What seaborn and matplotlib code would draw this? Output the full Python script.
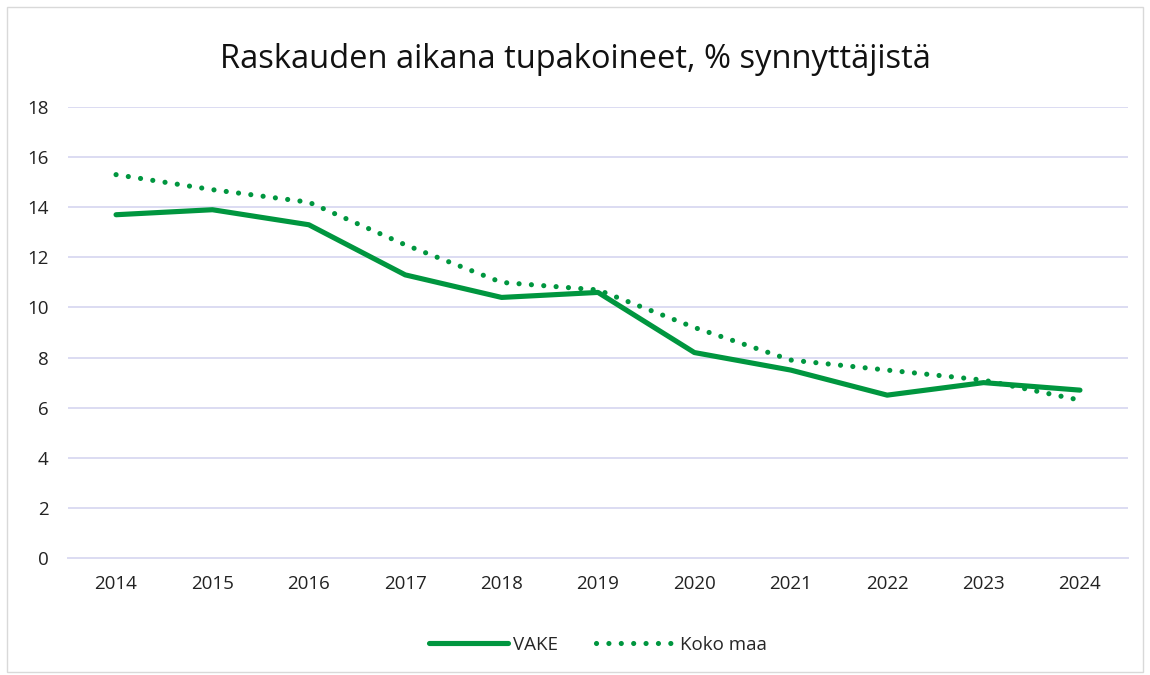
import numpy as np
import pandas as pd
import matplotlib
matplotlib.use('Agg')
import matplotlib.pyplot as plt
import seaborn as sns
from matplotlib.patches import Rectangle

# Data
years = [2014, 2015, 2016, 2017, 2018, 2019, 2020, 2021, 2022, 2023, 2024]
vake = [13.7, 13.9, 13.3, 11.3, 10.4, 10.6, 8.2, 7.5, 6.5, 7.0, 6.7]
koko_maa = [15.3, 14.7, 14.2, 12.5, 11.0, 10.7, 9.2, 7.9, 7.5, 7.1, 6.3]
series_names = ['VAKE', 'Koko maa']
title = 'Raskauden aikana tupakoineet, % synnyttäjistä'

green = '#00963F'
grid_col = '#DCDCF2'

sns.set_theme(style='white')
plt.rcParams['font.family'] = ['Open Sans', 'DejaVu Sans']

df = pd.DataFrame({
    'year': years * 2,
    'value': vake + koko_maa,
    'series': [series_names[0]] * len(years) + [series_names[1]] * len(years),
})

fig = plt.figure(figsize=(11.5, 6.75), dpi=100)
ax = fig.add_axes([0.059, 0.1733, 0.922, 0.6682])

for name, ls in zip(series_names, ['-', (0, (0.01, 2.4))]):
    sub = df[df['series'] == name]
    sns.lineplot(data=sub, x='year', y='value', ax=ax, color=green,
                 linewidth=3.7, linestyle=ls, label=name,
                 solid_capstyle='round', dash_capstyle='round')

ax.set_xlim(2013.5, 2024.5)
ax.set_ylim(0, 18)
ax.set_yticks(np.arange(0, 19, 2))
ax.set_xticks(years)
ax.set_xticklabels([str(y) for y in years])
ax.yaxis.grid(True, color=grid_col, linewidth=1.4)
ax.set_axisbelow(True)
for s in ax.spines.values():
    s.set_visible(False)
ax.spines['bottom'].set_visible(True)
ax.spines['bottom'].set_color(grid_col)
ax.spines['bottom'].set_linewidth(1.4)
ax.tick_params(axis='x', labelsize=13.5, colors='#222222', length=0, pad=12)
ax.tick_params(axis='y', labelsize=13.5, colors='#222222', length=0, pad=14)
ax.set_xlabel('')
ax.set_ylabel('')

fig.suptitle(title, y=0.937, fontsize=23.5, color='#111111')

leg = ax.legend(loc='upper center', bbox_to_anchor=(0.5, -0.135), ncol=2,
                frameon=False, fontsize=13.5, handlelength=4.2,
                columnspacing=2.0, handletextpad=0.3)
for line in leg.get_lines():
    line.set_linewidth(3.7)

fig.patches.append(Rectangle((0.006, 0.004), 0.988, 0.985, transform=fig.transFigure,
                             fill=False, edgecolor='#D9D9D9', linewidth=1))

fig.savefig('out.png', dpi=100)
